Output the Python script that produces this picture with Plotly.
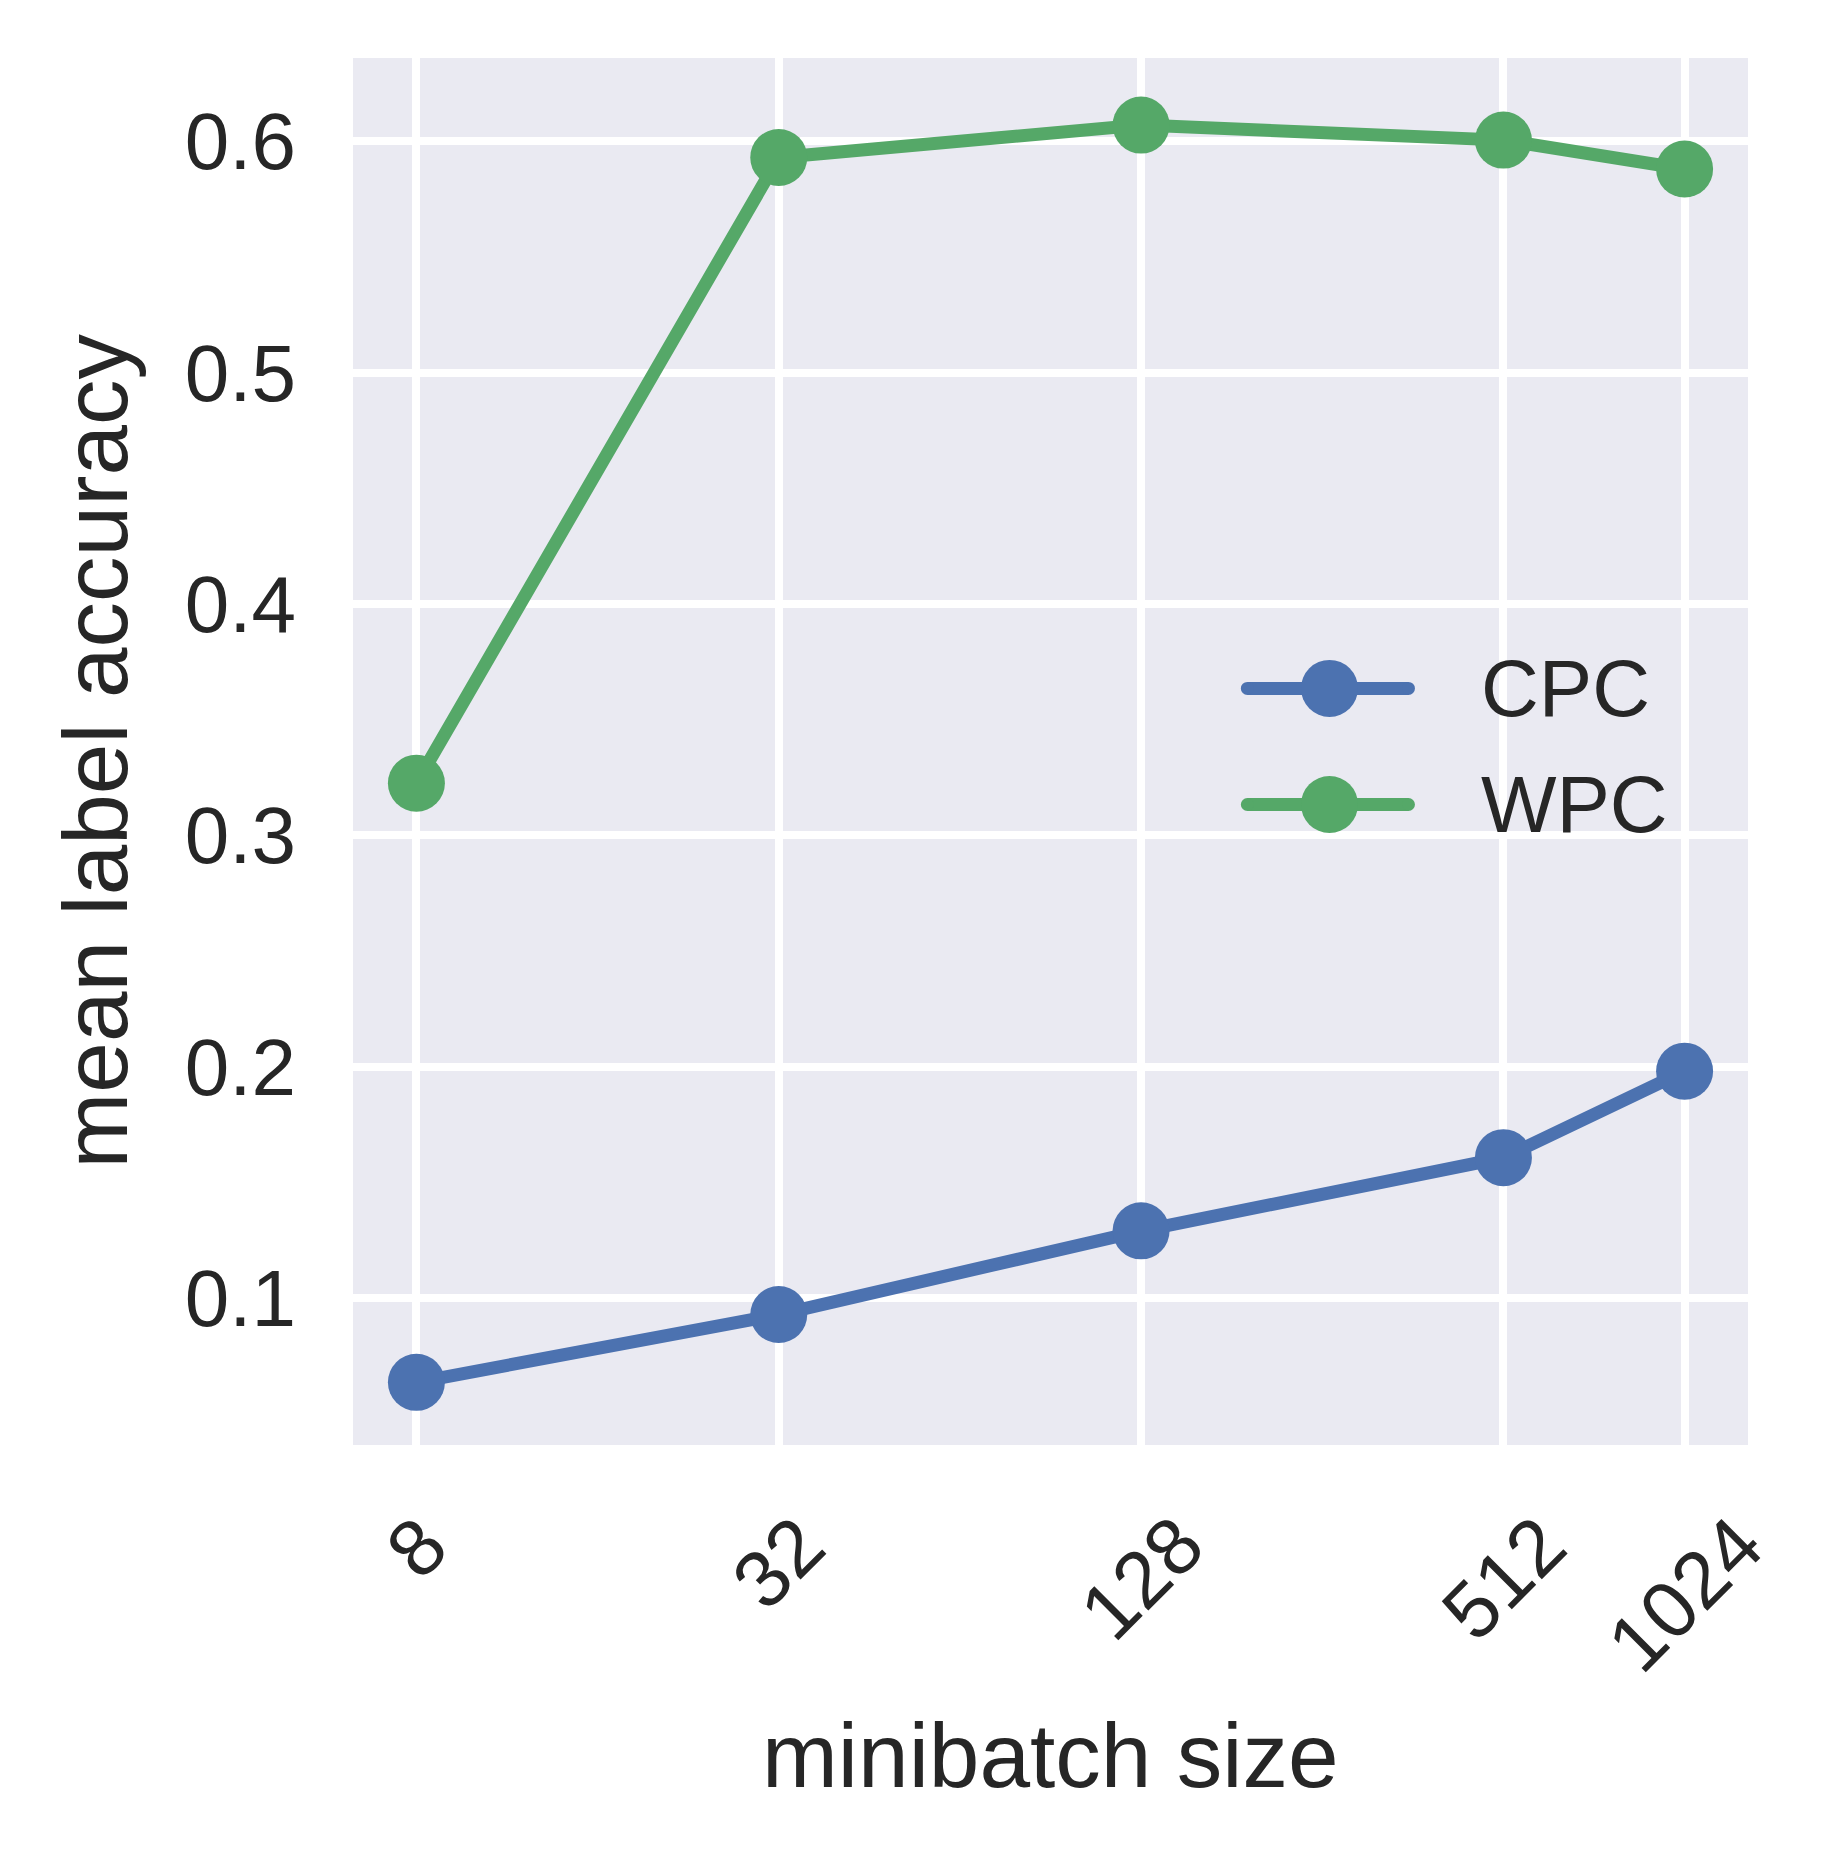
import math
import plotly.graph_objects as go

# ---- data ----
minibatch_sizes = [8, 32, 128, 512, 1024]
tick_labels = ["8", "32", "128", "512", "1024"]
cpc_accuracy = [0.0635, 0.0928, 0.129, 0.1606, 0.198]
wpc_accuracy = [0.3225, 0.593, 0.607, 0.6005, 0.588]
series_names = ["CPC", "WPC"]
series_colors = ["#4C72B0", "#55A868"]
y_ticks = [0.1, 0.2, 0.3, 0.4, 0.5, 0.6]

W, H = 1836, 1865
OFF = 8  # default page body margin
L, R, T, B = 353 - OFF, 88 + OFF, 58 - OFF, 420 + OFF
TXT = "#262626"
FONT = "Liberation Sans, Arial, sans-serif"
LW = 13
MS = 57

fig = go.Figure()
for name, vals, col in zip(series_names, [cpc_accuracy, wpc_accuracy], series_colors):
    fig.add_trace(go.Scatter(
        x=minibatch_sizes, y=vals, name=name, mode="lines+markers",
        line=dict(color=col, width=LW),
        marker=dict(color=col, size=MS),
        showlegend=False,
    ))

lo = math.log2(min(minibatch_sizes))
hi = math.log2(max(minibatch_sizes))
pad = 0.05 * (hi - lo)
xr = [(lo - pad) * math.log10(2), (hi + pad) * math.log10(2)]

annotations = []
for v, t in zip(minibatch_sizes, tick_labels):
    annotations.append(dict(
        x=math.log10(v), y=0, xref="x", yref="paper", text=t, showarrow=False,
        textangle=-45, xanchor="center", yanchor="top", yshift=-52,
        font=dict(size=80, color=TXT, family=FONT),
    ))
annotations.append(dict(
    x=0.5, y=0, xref="paper", yref="paper", text="minibatch size", showarrow=False,
    xanchor="center", yanchor="middle", yshift=-310,
    font=dict(size=91, color=TXT, family=FONT),
))
annotations.append(dict(
    x=0, y=0.5, xref="paper", yref="paper", text="mean label accuracy", showarrow=False,
    textangle=-90, xanchor="center", yanchor="middle", xshift=-258,
    font=dict(size=91, color=TXT, family=FONT),
))

# custom legend (matplotlib-style long handles with round caps)
shapes = []
leg_y = [0.5455, 0.4618]
lx0, lx1, mx = 0.6411, 0.7566, 0.700
for name, col, ly in zip(series_names, series_colors, leg_y):
    shapes.append(dict(type="line", xref="paper", yref="paper", x0=lx0, x1=lx1,
                       y0=ly, y1=ly, line=dict(color=col, width=LW)))
    for cx in (lx0, lx1):
        shapes.append(dict(type="circle", xref="paper", yref="paper",
                           xsizemode="pixel", ysizemode="pixel",
                           xanchor=cx, yanchor=ly, x0=-LW / 2, x1=LW / 2, y0=-LW / 2, y1=LW / 2,
                           fillcolor=col, line=dict(width=0)))
    shapes.append(dict(type="circle", xref="paper", yref="paper",
                       xsizemode="pixel", ysizemode="pixel",
                       xanchor=mx, yanchor=ly, x0=-MS / 2, x1=MS / 2, y0=-MS / 2, y1=MS / 2,
                       fillcolor=col, line=dict(width=0)))
    annotations.append(dict(
        x=0.807, y=ly, xref="paper", yref="paper", text=name, showarrow=False,
        xanchor="left", yanchor="middle",
        font=dict(size=80, color=TXT, family=FONT),
    ))

fig.update_layout(
    width=W, height=H,
    margin=dict(l=L, r=R, t=T, b=B),
    paper_bgcolor="white", plot_bgcolor="#EAEAF2",
    font=dict(family=FONT, color=TXT),
    showlegend=False,
    xaxis=dict(type="log", range=xr, tickvals=minibatch_sizes, showticklabels=False,
               showgrid=True, gridcolor="white", gridwidth=8, zeroline=False,
               showline=False, ticks=""),
    yaxis=dict(range=[0.0364, 0.636], tickvals=y_ticks, ticktext=[f"{v:.1f}" for v in y_ticks],
               showgrid=True, gridcolor="white", gridwidth=8, zeroline=False,
               showline=False, ticks="", ticklabelstandoff=56,
               tickfont=dict(size=80, color=TXT, family=FONT)),
    annotations=annotations,
    shapes=shapes,
)

fig.write_html("out.html")
